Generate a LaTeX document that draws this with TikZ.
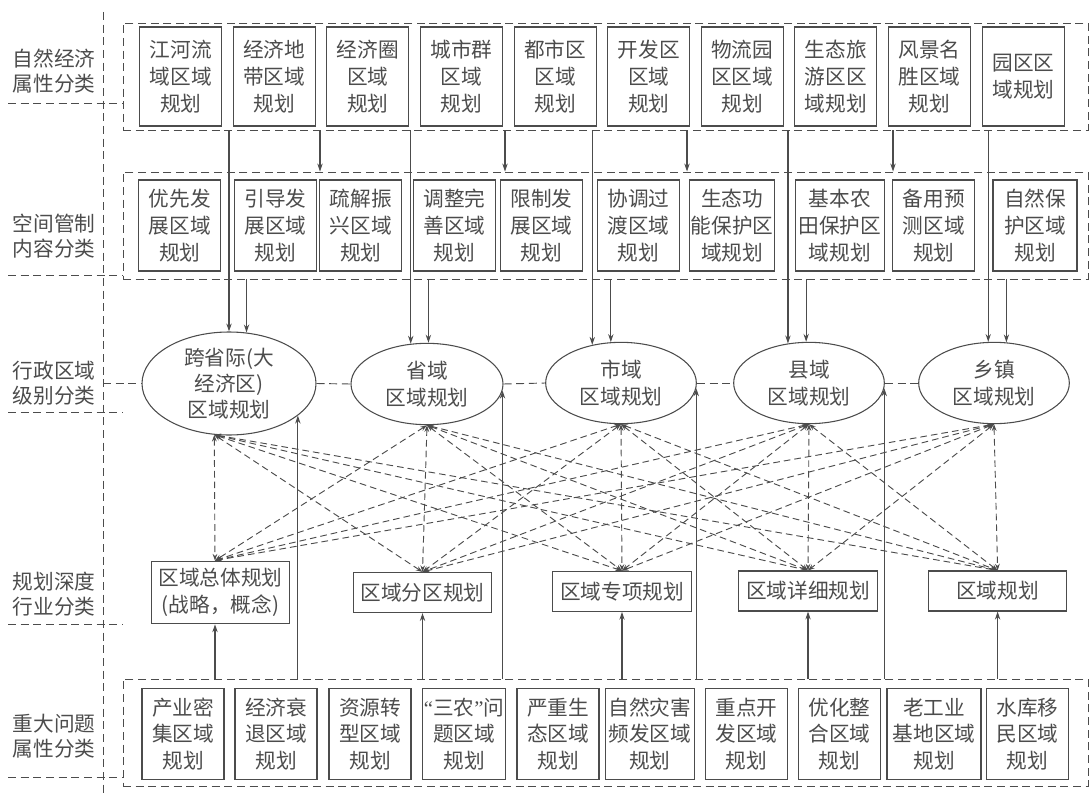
\documentclass[tikz,border=0pt]{standalone}
\usepackage{fontspec}
\setmainfont{Noto Sans CJK SC}
\newfontfamily\latinq{Liberation Serif}
\usetikzlibrary{arrows.meta, positioning, shapes.geometric}
\definecolor{ink}{gray}{0.3}

\begin{document}
\begin{tikzpicture}[x=0.75pt, y=-0.75pt,
    every node/.style={text=ink, font=\fontsize{15.5pt}{20pt}\selectfont},
    cell/.style={draw=ink, line width=0.8pt, minimum width=61.5pt, minimum height=68.25pt, inner sep=1pt, align=center},
    tallcell/.style={cell, minimum height=74.25pt},
    depth/.style={draw=ink, line width=0.8pt, minimum width=104pt, minimum height=30pt, inner sep=1pt, align=center},
    level/.style={draw=ink, line width=0.8pt, ellipse, minimum width=113pt, minimum height=61pt, inner sep=0pt, align=center},
    group/.style={draw=ink, line width=0.7pt, dash pattern=on 6pt off 3.5pt, minimum width=723.75pt, minimum height=80.25pt, inner sep=0pt},
    side/.style={align=center, font=\fontsize{15.5pt}{18.75pt}\selectfont},
    guide/.style={draw=ink, line width=0.7pt, dash pattern=on 6pt off 3.5pt},
    arrow/.style={draw=ink, line width=0.8pt, -{Stealth[length=6pt, width=4pt]}},
    link/.style={draw=ink, line width=0.7pt, dash pattern=on 5pt off 3pt, {Stealth[length=5pt, width=3.5pt]}-{Stealth[length=5pt, width=3.5pt]}}
  ]
  \useasboundingbox (0,0) rectangle (1091,795);

  % side labels
  \node[side] (l1) at (54,71.5) {自然经济\\属性分类};
  \node[side] (l2) at (54,236.5) {空间管制\\内容分类};
  \node[side] (l3) at (54,383.5) {行政区域\\级别分类};
  \node[side] (l4) at (54,594) {规划深度\\行业分类};
  \node[side] (l5) at (54,736.5) {重大问题\\属性分类};

  % natural economy row
  \node[group] (g1) at (605.5,76.5) {};
  \node[tallcell] (n1) at (180.7,76.5) {江河流\\域区域\\规划};
  \node[tallcell] (n2) at (274.3,76.5) {经济地\\带区域\\规划};
  \node[tallcell] (n3) at (367.9,76.5) {经济圈\\区域\\规划};
  \node[tallcell] (n4) at (461.5,76.5) {城市群\\区域\\规划};
  \node[tallcell] (n5) at (555.1,76.5) {都市区\\区域\\规划};
  \node[tallcell] (n6) at (648.7,76.5) {开发区\\区域\\规划};
  \node[tallcell] (n7) at (742.3,76.5) {物流园\\区区域\\规划};
  \node[tallcell] (n8) at (835.9,76.5) {生态旅\\游区区\\域规划};
  \node[tallcell] (n9) at (929.5,76.5) {风景名\\胜区域\\规划};
  \node[tallcell] (n10) at (1023.5,76.5) {园区区\\域规划};

  % spatial control row
  \node[group] (g2) at (605.5,225.5) {};
  \node[cell] (s1) at (179.7,225.5) {优先发\\展区域\\规划};
  \node[cell] (s2) at (275.4,225.5) {引导发\\展区域\\规划};
  \node[cell] (s3) at (360.7,225.5) {疏解振\\兴区域\\规划};
  \node[cell] (s4) at (454.5,225.5) {调整完\\善区域\\规划};
  \node[cell] (s5) at (541.6,225.5) {限制发\\展区域\\规划};
  \node[cell] (s6) at (638.5,225.5) {协调过\\渡区域\\规划};
  \node[cell, minimum width=64pt] (s7) at (732,225.5) {生态功\\能保护区\\域规划};
  \node[cell, minimum width=66.75pt] (s8) at (839.8,225.5) {基本农\\田保护区\\域规划};
  \node[cell] (s9) at (933.7,225.5) {备用预\\测区域\\规划};
  \node[cell, minimum width=63pt] (s10) at (1035,225.5) {自然保\\护区域\\规划};

  % administrative levels
  \node[level, minimum width=130.5pt, minimum height=77.25pt, font=\fontsize{15.5pt}{19.5pt}\selectfont] (e1) at (229,383.5) {跨省际(大\\经济区)\\区域规划};
  \node[level, minimum width=114pt] (e2) at (427,384) {省域\\区域规划};
  \node[level] (e3) at (621,383) {市域\\区域规划};
  \node[level] (e4) at (809,383) {县域\\区域规划};
  \node[level] (e5) at (994,383) {乡镇\\区域规划};

  % planning depth
  \node[depth, minimum height=47pt] (d1) at (220.4,592.4) {区域总体规划\\(战略，概念)};
  \node[depth] (d2) at (422.5,592.5) {区域分区规划};
  \node[depth] (d3) at (622,591.3) {区域专项规划};
  \node[depth] (d4) at (808,591) {区域详细规划};
  \node[depth] (d5) at (997.6,591) {区域规划};

  % major problem row
  \node[group] (g5) at (605.5,732.5) {};
  \node[cell] (p1) at (183,733.8) {产业密\\集区域\\规划};
  \node[cell] (p2) at (276,733.8) {经济衰\\退区域\\规划};
  \node[cell] (p3) at (370,733.8) {资源转\\型区域\\规划};
  \node[cell] (p4) at (464,733.8) {{\latinq “}三农{\latinq ”}问\\题区域\\规划};
  \node[cell] (p5) at (558,733.8) {严重生\\态区域\\规划};
  \node[cell, minimum width=67pt] (p6) at (649.8,733.8) {自然灾害\\频发区域\\规划};
  \node[cell] (p7) at (746.4,733.8) {重点开\\发区域\\规划};
  \node[cell] (p8) at (839.4,733.8) {优化整\\合区域\\规划};
  \node[cell, minimum width=70.5pt] (p9) at (934,733.8) {老工业\\基地区域\\规划};
  \node[cell] (p10) at (1027.4,733.8) {水库移\\民区域\\规划};

  % left guides
  \coordinate (v0) at (103,12);
  \coordinate (v1) at (103,795);
  \draw[guide] (v0) -- (v1);
  \coordinate (r1) at (8,103.6);
  \coordinate (r2) at (8,275);
  \coordinate (r3) at (8,412.5);
  \coordinate (r4) at (8,624);
  \coordinate (r5) at (8,777.5);
  \draw[guide] (r1) -- (r1 -| g1.west);
  \draw[guide] (r2) -- (r2 -| g2.west);
  \draw[guide] (r3) -- (r3 -| g1.west);
  \draw[guide] (r4) -- (r4 -| g1.west);
  \draw[guide] (r5) -- (r5 -| g5.west);
  \draw[guide] (v0 |- e1.west) -- (e1.west);
  \draw[guide] (e1.east) -- (e2.west);
  \draw[guide] (e2.east) -- (e3.west);
  \draw[guide] (e3.east) -- (e4.west);
  \draw[guide] (e4.east) -- (e5.west);

  % natural economy -> spatial control
  \coordinate (a1) at (320,0);
  \coordinate (a2) at (505,0);
  \coordinate (a3) at (687,0);
  \coordinate (a4) at (893,0);
  \foreach \k in {1,...,4}
    \draw[arrow] (g1.south -| a\k) -- (g2.north -| a\k);

  % natural economy -> levels
  \draw[arrow] (g1.south -| e1.90) -- (e1.90);
  \draw[arrow] (g1.south -| e2.112) -- (e2.112);
  \draw[arrow] (g1.south -| e3.127) -- (e3.127);
  \draw[arrow] (g1.south -| e4.118) -- (e4.118);
  \draw[arrow] (g1.south -| e5.98) -- (e5.98);

  % spatial control -> levels
  \draw[arrow] (g2.south -| e1.71) -- (e1.71);
  \draw[arrow] (g2.south -| e2.88) -- (e2.88);
  \draw[arrow] (g2.south -| e3.104) -- (e3.104);
  \draw[arrow] (g2.south -| e4.94) -- (e4.94);
  \draw[arrow] (g2.south -| e5.73) -- (e5.73);

  % major problems -> levels
  \draw[arrow] (g5.north -| e1.-25) -- (e1.-25);
  \draw[arrow] (g5.north -| e2.-5) -- (e2.-5);
  \draw[arrow] (g5.north -| e3.-4) -- (e3.-4);
  \draw[arrow] (g5.north -| e4.-4) -- (e4.-4);

  % major problems -> planning depth
  \coordinate (c1) at (215,0);
  \draw[arrow] (g5.north -| c1) -- (d1.south -| c1);
  \foreach \k in {2,...,5}
    \draw[arrow] (g5.north -| d\k.south) -- (d\k.south);

  % levels <-> planning depth
  \coordinate (b1) at (e1.254);
  \coordinate (b2) at (e2.south);
  \coordinate (b3) at (e3.south);
  \coordinate (b4) at (e4.south);
  \coordinate (b5) at (e5.south);
  \coordinate (t1) at (d1.north -| c1);
  \coordinate (t2) at (d2.north);
  \coordinate (t3) at (d3.north);
  \coordinate (t4) at (d4.north);
  \coordinate (t5) at (d5.north);
  \foreach \i in {1,...,5}
    \foreach \j in {1,...,5}
      \draw[link] (b\i) -- (t\j);
\end{tikzpicture}
\end{document}
